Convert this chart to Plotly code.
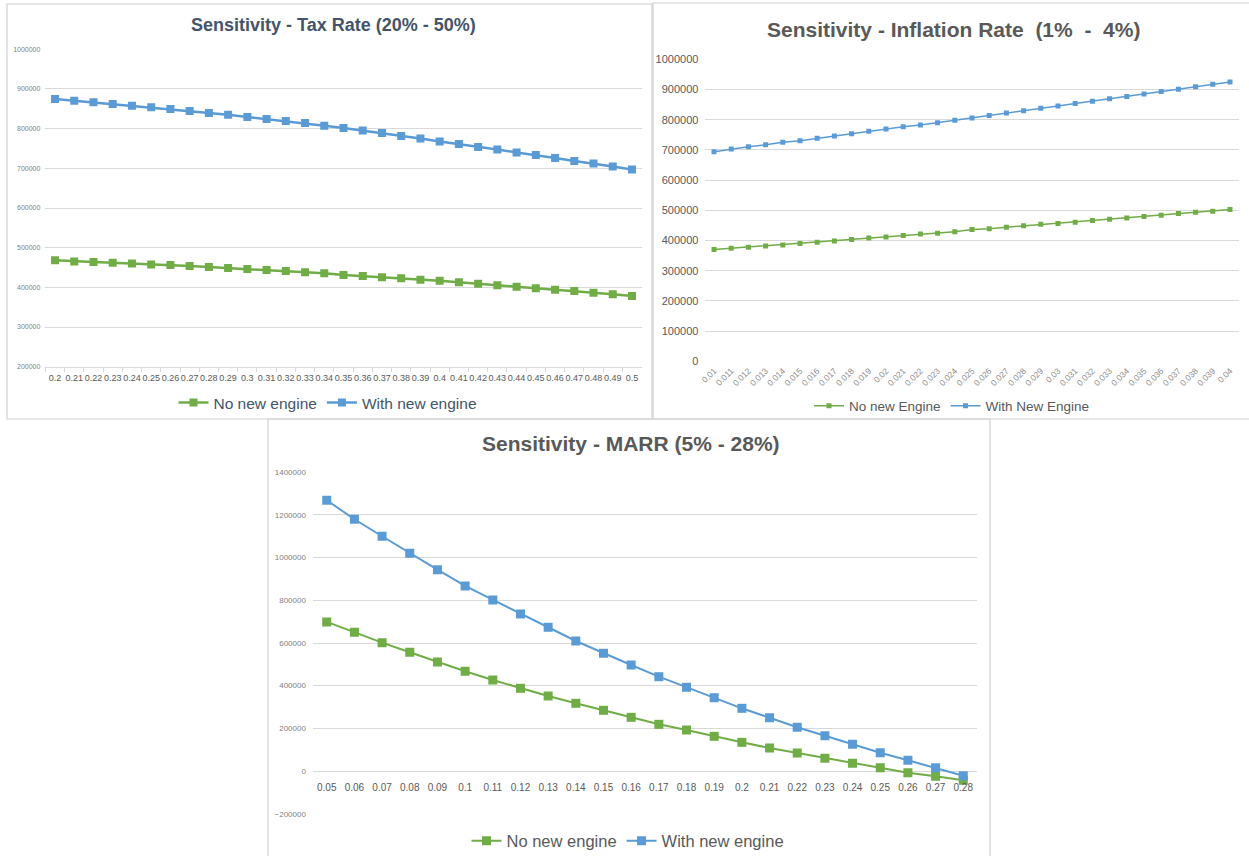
import plotly.graph_objects as go

W, H = 1249, 856

# ---- Tax rate sensitivity (20% - 50%) ----
tax_rates = ["0.2", "0.21", "0.22", "0.23", "0.24", "0.25", "0.26", "0.27", "0.28", "0.29",
             "0.3", "0.31", "0.32", "0.33", "0.34", "0.35", "0.36", "0.37", "0.38", "0.39",
             "0.4", "0.41", "0.42", "0.43", "0.44", "0.45", "0.46", "0.47", "0.48", "0.49", "0.5"]
tax_no_engine = [468000, 465400, 463700, 462200, 460400, 457900, 456200, 453600, 451100, 448600,
                 446100, 443600, 441100, 437800, 435300, 431000, 428500, 425200, 422700, 419400,
                 416900, 412600, 409300, 405000, 401800, 397500, 394200, 390700, 386700, 382400,
                 378100]
tax_with_engine = [874800, 870500, 866500, 862200, 857900, 853900, 849600, 844600, 839600, 835300,
                   829500, 824400, 819400, 814300, 807500, 801800, 795500, 789000, 781600, 775300,
                   767800, 761400, 753900, 747600, 740000, 733700, 726200, 718700, 712300, 704800,
                   697200]

# ---- Inflation rate sensitivity (1% - 4%) ----
inflation_rates = ["0.01", "0.011", "0.012", "0.013", "0.014", "0.015", "0.016", "0.017", "0.018",
                   "0.019", "0.02", "0.021", "0.022", "0.023", "0.024", "0.025", "0.026", "0.027",
                   "0.028", "0.029", "0.03", "0.031", "0.032", "0.033", "0.034", "0.035", "0.036",
                   "0.037", "0.038", "0.039", "0.04"]
infl_no_engine = [370200, 374500, 377800, 382100, 385400, 390100, 394400, 398700, 403300, 408600,
                  411900, 416600, 421900, 424200, 429000, 436600, 438600, 444100, 448500, 454000,
                  456300, 460600, 466200, 470500, 474800, 479400, 483700, 489300, 493600, 496900,
                  502300]
infl_with_engine = [694000, 703000, 710600, 717000, 725000, 730500, 738400, 746000, 753700, 761600,
                    769200, 776800, 782500, 790100, 798000, 806000, 814000, 822000, 830000, 838000,
                    845500, 853500, 861500, 869500, 877000, 885000, 893000, 901000, 909000, 917000,
                    925000]

# ---- MARR sensitivity (5% - 28%) ----
marr_rates = ["0.05", "0.06", "0.07", "0.08", "0.09", "0.1", "0.11", "0.12", "0.13", "0.14", "0.15",
              "0.16", "0.17", "0.18", "0.19", "0.2", "0.21", "0.22", "0.23", "0.24", "0.25", "0.26",
              "0.27", "0.28"]
marr_no_engine = [699000, 650200, 601500, 556500, 511000, 467400, 426600, 387700, 351600, 317400,
                  284600, 251700, 218900, 192200, 162700, 134500, 107800, 84400, 59500, 36100,
                  15500, -8000, -24800, -43600]
marr_with_engine = [1269000, 1180000, 1100300, 1020600, 943700, 867300, 801600, 736000, 673700,
                    609400, 551800, 496900, 442100, 392400, 343600, 293900, 249900, 204900, 165500,
                    125200, 85800, 50200, 15500, -22000]

GREEN = "#70AD47"
BLUE = "#5B9BD5"
GRID = "#D9D9D9"
FONT = "Liberation Sans, Arial, sans-serif"


def px_x(p):
    return p / W


def px_y(p):
    return 1 - p / H


fig = go.Figure()

# Tax rate panel
fig.add_trace(go.Scatter(x=tax_rates, y=tax_no_engine, name="No new engine", mode="lines+markers",
                         line=dict(color=GREEN, width=2.5), marker=dict(symbol="square", size=8),
                         xaxis="x", yaxis="y", legend="legend"))
fig.add_trace(go.Scatter(x=tax_rates, y=tax_with_engine, name="With new engine", mode="lines+markers",
                         line=dict(color=BLUE, width=2.5), marker=dict(symbol="square", size=8),
                         xaxis="x", yaxis="y", legend="legend"))

# Inflation panel
fig.add_trace(go.Scatter(x=inflation_rates, y=infl_no_engine, name="No new Engine", mode="lines+markers",
                         line=dict(color=GREEN, width=1.5), marker=dict(symbol="square", size=5),
                         xaxis="x2", yaxis="y2", legend="legend2"))
fig.add_trace(go.Scatter(x=inflation_rates, y=infl_with_engine, name="With New Engine", mode="lines+markers",
                         line=dict(color=BLUE, width=1.5), marker=dict(symbol="square", size=5),
                         xaxis="x2", yaxis="y2", legend="legend2"))

# MARR panel
fig.add_trace(go.Scatter(x=marr_rates, y=marr_no_engine, name="No new engine", mode="lines+markers",
                         line=dict(color=GREEN, width=2), marker=dict(symbol="square", size=9),
                         xaxis="x3", yaxis="y3", legend="legend3"))
fig.add_trace(go.Scatter(x=marr_rates, y=marr_with_engine, name="With new engine", mode="lines+markers",
                         line=dict(color=BLUE, width=2), marker=dict(symbol="square", size=9),
                         xaxis="x3", yaxis="y3", legend="legend3"))

cat_axis = dict(type="category", showgrid=False, zeroline=False, showline=False,
                ticks="", tickfont=dict(family=FONT, color="#595959"))

fig.update_layout(
    width=W, height=H,
    margin=dict(l=0, r=0, t=0, b=0, autoexpand=False),
    paper_bgcolor="white", plot_bgcolor="white",
    hovermode=False,
    font=dict(family=FONT),
    xaxis=dict(cat_axis, domain=[px_x(45.4), px_x(641.6)], anchor="y", range=[-0.5, 30.5],
               showline=True, linecolor=GRID, ticks="outside", tickson="boundaries",
               ticklen=4, tickcolor=GRID, tickangle=0, ticklabelstandoff=2,
               tickfont=dict(family=FONT, size=9, color="#595959")),
    yaxis=dict(domain=[px_y(366.7), px_y(49.3)], anchor="x", range=[200000, 1000000], dtick=100000,
               showgrid=True, gridcolor=GRID, zeroline=False, tickformat="d", ticks="",
               tickfont=dict(family=FONT, size=7, color="#7F7F7F"), ticklabelstandoff=4),
    xaxis2=dict(cat_axis, domain=[px_x(705.4), px_x(1238.6)], anchor="y2", range=[-0.5, 30.5],
                tickangle=-45, ticklabelstandoff=2, tickfont=dict(family=FONT, size=8.5, color="#8C8C8C")),
    yaxis2=dict(domain=[px_y(361.3), px_y(59.3)], anchor="x2", range=[0, 1000000], dtick=100000,
                showgrid=True, gridcolor=GRID, zeroline=False, tickformat="d", ticks="",
                tickfont=dict(family=FONT, size=11, color="#595959"), ticklabelstandoff=6),
    xaxis3=dict(cat_axis, domain=[px_x(312.9), px_x(977.1)], anchor="free", position=px_y(771),
                range=[-0.5, 23.5], tickangle=0, ticklabelstandoff=9,
                tickfont=dict(family=FONT, size=10, color="#595959")),
    yaxis3=dict(domain=[px_y(813.7), px_y(472.3)], anchor="x3", range=[-200000, 1400000], dtick=200000,
                showgrid=True, gridcolor=GRID, zeroline=False, tickformat="d", ticks="",
                tickfont=dict(family=FONT, size=8, color="#7F7F7F"), ticklabelstandoff=6),
    legend=dict(orientation="h", x=px_x(328), y=px_y(403), xanchor="center", yanchor="middle",
                font=dict(family=FONT, size=15.5, color="#44546A"), itemwidth=30,
                bgcolor="rgba(0,0,0,0)"),
    legend2=dict(orientation="h", x=px_x(952), y=px_y(406), xanchor="center", yanchor="middle",
                 font=dict(family=FONT, size=13.5, color="#595959"), itemwidth=30,
                 bgcolor="rgba(0,0,0,0)"),
    legend3=dict(orientation="h", x=px_x(628), y=px_y(841), xanchor="center", yanchor="middle",
                 font=dict(family=FONT, size=16.5, color="#595959"), itemwidth=30,
                 bgcolor="rgba(0,0,0,0)"),
)

# Panel titles
titles = [
    ("Sensitivity - Tax Rate (20% - 50%)", 333, 25, 18, "#44546A"),
    ("Sensitivity - Inflation Rate  (1%  -  4%)", 953, 30, 21, "#595959"),
    ("Sensitivity - MARR (5% - 28%)", 631, 443, 21, "#595959"),
]
for text, cx, cy, size, color in titles:
    fig.add_annotation(text="<b>" + text + "</b>", xref="paper", yref="paper",
                       x=px_x(cx), y=px_y(cy), xanchor="center", yanchor="middle",
                       showarrow=False, font=dict(family=FONT, size=size, color=color))

# Panel frames
frames = [(7, 4, 652, 419), (653, 3, 1260, 419), (268, 419, 990, 870)]
for x0, y0, x1, y1 in frames:
    fig.add_shape(type="rect", xref="paper", yref="paper",
                  x0=px_x(x0), x1=px_x(x1), y0=px_y(y1), y1=px_y(y0),
                  line=dict(color="#D0D0D0", width=1.2), fillcolor="rgba(0,0,0,0)", layer="below")

# the figure is sized to the window exactly, so drop the page's default body margin
fig.write_html("out.html", post_script="document.body.style.margin='0';")
